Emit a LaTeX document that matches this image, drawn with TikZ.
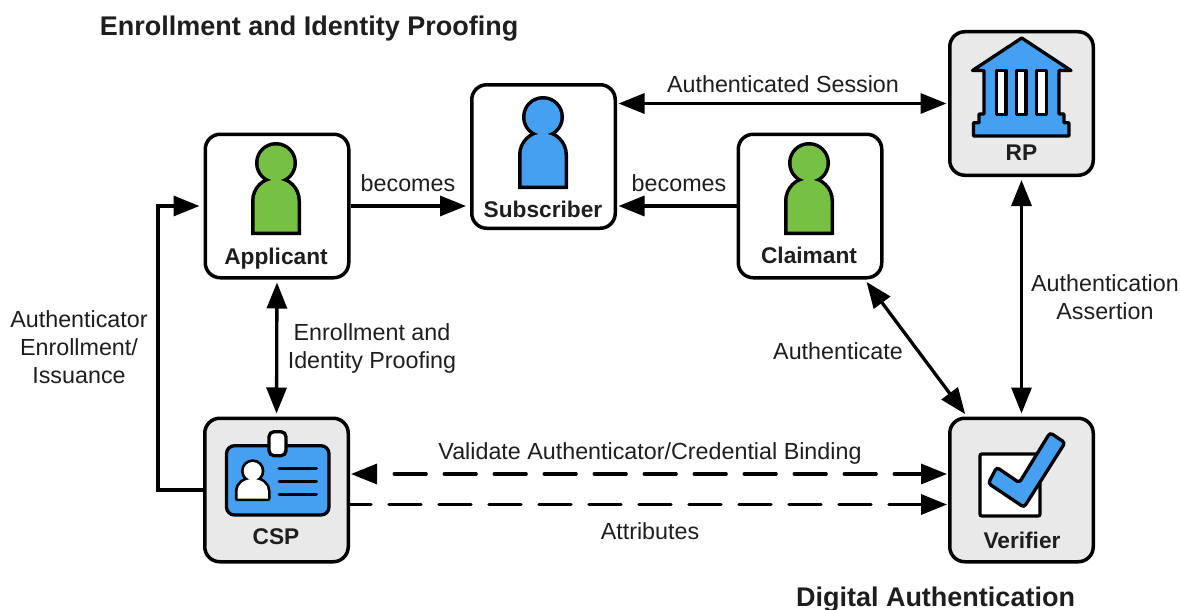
\documentclass[tikz,border=0pt]{standalone}
\usepackage{fontspec}
\setmainfont{Liberation Sans}
\usetikzlibrary{arrows.meta}

\definecolor{iconblue}{HTML}{45A0F2}
\definecolor{icongreen}{HTML}{76C043}
\definecolor{boxgray}{HTML}{E9E9E9}
\definecolor{inkdark}{HTML}{1E1E1E}

\tikzset{
  whitebox/.style={draw=black,fill=white,line width=3.5pt,rounded corners=15pt,minimum size=143.5pt,inner sep=0pt},
  graybox/.style={whitebox,fill=boxgray},
  boxname/.style={font=\fontsize{22.7}{26}\selectfont\bfseries,text=inkdark,inner sep=0pt},
  linktext/.style={font=\fontsize{23.3}{28}\selectfont,text=inkdark,align=center,inner sep=0pt},
  headline/.style={font=\fontsize{27}{32}\selectfont\bfseries,text=inkdark,inner sep=0pt},
  link/.style={line width=3.3pt,shorten >=3pt,shorten <=3pt},
  dashlink/.style={link,line cap=round,dash pattern=on 32pt off 18pt,shorten >=1pt,shorten <=1pt},
  every picture/.append style={>={Triangle[length=26pt,width=20pt]}},
}

% person: #1 = head centre, #2 = colour
\newcommand{\personicon}[2]{
  \begin{scope}[shift={#1}]
    \draw[line width=7pt] (0,0) circle (17.5);
    \draw[line width=7pt] (-21.5,68.5) -- (-21.5,38) arc[start angle=180,end angle=0,x radius=21.5,y radius=-21.5] -- (21.5,68.5) -- cycle;
    \fill[#2] (0,0) circle (17.5);
    \fill[#2] (-21.5,68.5) -- (-21.5,38) arc[start angle=180,end angle=0,x radius=21.5,y radius=-21.5] -- (21.5,68.5) -- cycle;
  \end{scope}
}

\begin{document}
\begin{tikzpicture}[x=1pt,y=-1pt]

\useasboundingbox (0,0) rectangle (1180,610);

\node[whitebox] (applicant) at (277,206) {};
\node[whitebox] (subscriber) at (543.5,156.5) {};
\node[whitebox] (claimant) at (810,206) {};
\node[graybox] (rp) at (1021.5,103.5) {};
\node[graybox] (csp) at (276.5,490) {};
\node[graybox] (verifier) at (1021.5,490) {};

\coordinate (trunk) at (158,350);

% connectors
\draw[link,->,shorten <=0pt,shorten >=4pt] (applicant.east) -- (applicant.east -| subscriber.west);
\draw[link,->,shorten <=0pt,shorten >=1.5pt] (claimant.west) -- (claimant.west -| subscriber.east);
\draw[link,<->,shorten <=1.5pt,shorten >=1.5pt] (rp.west -| subscriber.east) -- (rp.west);
\draw[link,<->] (applicant.south) -- (csp.north);
\draw[link,<->] (rp.south) -- (verifier.north);
\draw[link,<->] (claimant) -- (verifier);
\draw[link,->,shorten <=0pt,shorten >=4pt] (csp.west) -| (trunk) |- (applicant.west);

\draw[dashlink,<->,dash phase=32pt] ([yshift=16pt]csp.east) -- ([yshift=16pt]verifier.west);
\draw[dashlink,->,dash phase=11pt,shorten <=0pt] ([yshift=-14.5pt]csp.east) -- ([yshift=-14.5pt]verifier.west);

% people
\personicon{(276,163)}{icongreen}
\personicon{(543,117)}{iconblue}
\personicon{(809,163)}{icongreen}

% RP building
\draw[fill=iconblue,line width=3.3pt,line join=round] (1021.7,38) -- (1071,70.5) -- (1059,70.5) -- (1059,114) -- (1064,114) -- (1064,122.7) -- (1069,122.7) -- (1069,136) -- (973.5,136) -- (973.5,122.7) -- (979,122.7) -- (979,114) -- (984,114) -- (984,70.5) -- (972.5,70.5) -- cycle;
\foreach \winx in {996.5,1016.5,1036.7}
  \draw[fill=white,line width=3.3pt,line join=round] (\winx,70.5) rectangle ++(9.5,44);

% CSP card
\draw[fill=iconblue,line width=3.3pt,rounded corners=8pt] (226.5,445.7) rectangle (329,515);
\draw[fill=white,line width=3.3pt,rounded corners=5pt] (269,431.7) rectangle (286,455.7);
\draw[line width=5.4pt] (252.7,471) circle (9);
\draw[line width=5.4pt,line join=round] (237.5,498.5) -- (237.5,491) arc[start angle=180,end angle=0,x radius=15.2,y radius=-12] -- (267.9,498.5) -- cycle;
\fill[white] (252.7,471) circle (9);
\fill[white] (237.5,498.5) -- (237.5,491) arc[start angle=180,end angle=0,x radius=15.2,y radius=-12] -- (267.9,498.5) -- cycle;
\foreach \rowy in {468.7,481.3,494.3}
  \draw[line width=3pt,line cap=round] (279,\rowy) -- (316.5,\rowy);

% Verifier check
\draw[fill=white,line width=3.3pt,rounded corners=2pt] (980,454) rectangle (1040,516);
\draw[fill=iconblue,line width=3.3pt,rounded corners=3pt] (996.7,467.3) -- (1019.3,482.7) -- (1050,432.7) -- (1065,442.7) -- (1024,507.3) -- (988.3,483.3) -- cycle;

% names in boxes
\node[boxname] (applicantname) at (276,258.5) {Applicant};
\node[boxname] (subscribername) at (543,209) {Subscriber};
\node[boxname] (claimantname) at (809,255) {Claimant};
\node[boxname] (rpname) at (1021.5,153) {RP};
\node[boxname] (cspname) at (276,537) {CSP};
\node[boxname] (verifiername) at (1022,540) {Verifier};

% link texts
\node[linktext] (becomesleft) at (408,183) {becomes};
\node[linktext] (becomesright) at (679,183) {becomes};
\node[linktext] (sessiontext) at (783,84) {Authenticated Session};
\node[linktext] (issuancetext) at (79,347) {Authenticator\\Enrollment/\\Issuance};
\node[linktext] (proofingtext) at (372,348.5) {Enrollment and\\Identity Proofing};
\node[linktext] (assertiontext) at (1105,297) {Authentication\\Assertion};
\node[linktext] (authenticatetext) at (838,351) {Authenticate};
\node[linktext] (bindingtext) at (650,453) {Validate Authenticator/Credential Binding};
\node[linktext] (attributestext) at (650,531) {Attributes};

\node[headline] (enrolltitle) at (309,29) {Enrollment and Identity Proofing};
\node[headline] (authtitle) at (935.5,599.5) {Digital Authentication};

\end{tikzpicture}
\end{document}
